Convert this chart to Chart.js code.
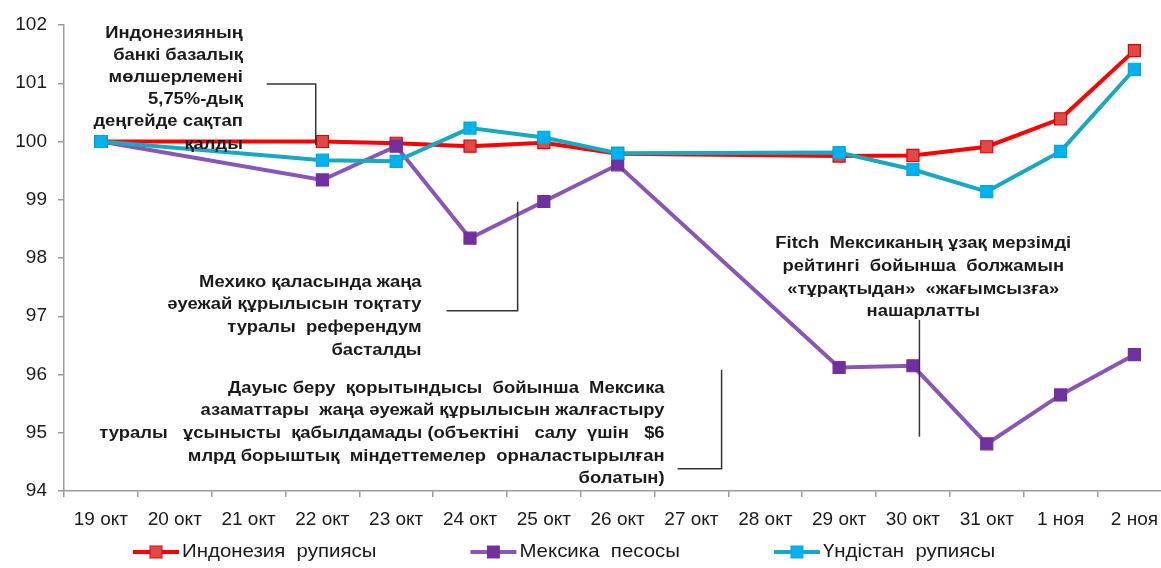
<!DOCTYPE html>
<html>
<head>
<meta charset="utf-8">
<script src="https://cdn.jsdelivr.net/npm/chart.js@4.4.0/dist/chart.umd.min.js"></script>
<style>
html, body { margin:0; padding:0; background:#fff; overflow:hidden; width:1161px; height:568px; }
#wrap { position:absolute; left:0; top:0; width:1181px; height:568px; }
</style>
</head>
<body>
<div id="wrap"><canvas id="c" width="1181" height="568"></canvas></div>
<script>
// ---- data ----
const categories = ['19 окт','20 окт','21 окт','22 окт','23 окт','24 окт','25 окт','26 окт','27 окт','28 окт','29 окт','30 окт','31 окт','1 ноя','2 ноя'];
const seriesNames = ['Индонезия  рупиясы', 'Мексика  песосы', 'Үндістан  рупиясы'];
const indonesia = [100, null, null, 100.00, 99.97, 99.92, 99.98, 99.79, null, null, 99.75, 99.76, 99.91, 100.39, 101.56];
const mexico    = [100, null, null, 99.34, 99.92, 98.34, 98.97, 99.60, null, null, 96.12, 96.15, 94.81, 95.65, 96.34];
const india     = [100, null, null, 99.68, 99.66, 100.23, 100.07, 99.80, null, null, 99.81, 99.52, 99.14, 99.83, 101.24];
const yTicks = [94, 95, 96, 97, 98, 99, 100, 101, 102];

const annotations = [
  { lines: ['Индонезияның','банкі базалық','мөлшерлемені','5,75%-дық','деңгейде сақтап','қалды'],
    align: 'right', x: 1.924, y: 101.86, lh: 22.2,
    path: [[2.246, 100.988], [2.91, 100.988], [2.91, 99.94]] },
  { lines: ['Мехико қаласында жаңа','әуежай құрылысын тоқтату','туралы  референдум','басталды'],
    align: 'right', x: 4.344, y: 97.58, lh: 22.6,
    path: [[4.683, 97.094], [5.645, 97.094], [5.645, 98.964]] },
  { lines: ['Fitch  Мексиканың ұзақ мерзімді','рейтингі  бойынша  болжамын','«тұрақтыдан»  «жағымсызға»','нашарлатты'],
    align: 'center', x: 11.14, y: 98.24, lh: 22.6,
    path: [[11.088, 96.94], [11.088, 94.933]] },
  { lines: ['Дауыс беру  қорытындысы  бойынша  Мексика','азаматтары  жаңа әуежай құрылысын жалғастыру','туралы   ұсынысты  қабылдамады (объектіні   салу  үшін   $6','млрд борыштық  міндеттемелер  орналастырылған','болатын)'],
    align: 'right', x: 7.636, y: 95.76, lh: 22.6,
    path: [[7.812, 94.38], [8.408, 94.38], [8.408, 96.082]] }
];

const colors = {
  indo: { line: '#FF0000', fill: '#E24848', border: '#E00000' },
  mex:  { line: '#8A56B6', fill: '#7030A0', border: '#7030A0' },
  ind:  { line: '#18A8C0', fill: '#00B2EE', border: '#00A8E0' }
};

const annotationPlugin = {
  id: 'ann',
  afterDatasetsDraw(chart) {
    const ctx = chart.ctx, xs = chart.scales.x, ys = chart.scales.y;
    ctx.save();
    annotations.forEach(a => {
      ctx.beginPath();
      ctx.strokeStyle = '#333';
      ctx.lineWidth = 1.5;
      a.path.forEach((p, i) => {
        const px = xs.getPixelForValue(p[0]), py = ys.getPixelForValue(p[1]);
        if (i === 0) ctx.moveTo(px, py); else ctx.lineTo(px, py);
      });
      ctx.stroke();
      ctx.fillStyle = '#1a1a1a';
      ctx.font = 'bold 16px "Liberation Sans", Arial, sans-serif';
      ctx.textAlign = a.align;
      ctx.textBaseline = 'middle';
      const x0 = xs.getPixelForValue(a.x), y0 = ys.getPixelForValue(a.y);
      a.lines.forEach((t, i) => {
        ctx.save();
        ctx.translate(x0, y0 + i * a.lh);
        ctx.scale(1.15, 1);
        ctx.fillText(t, 0, 0);
        ctx.restore();
      });
    });
    ctx.restore();
  }
};

const legendPlugin = {
  id: 'customLegend',
  afterDraw(chart) {
    const ctx = chart.ctx;
    const items = [colors.indo, colors.mex, colors.ind];
    const y = 552, sx = 1.075;
    let x = 133;
    ctx.save();
    ctx.font = '19px "Liberation Sans", Arial, sans-serif';
    ctx.textBaseline = 'middle';
    ctx.textAlign = 'left';
    items.forEach((c, i) => {
      ctx.strokeStyle = c.line;
      ctx.lineWidth = 4;
      ctx.beginPath(); ctx.moveTo(x, y); ctx.lineTo(x + 46, y); ctx.stroke();
      ctx.fillStyle = c.fill;
      ctx.fillRect(x + 17, y - 6, 12, 12);
      ctx.strokeStyle = c.border; ctx.lineWidth = 1;
      ctx.strokeRect(x + 17, y - 6, 12, 12);
      ctx.fillStyle = '#1a1a1a';
      const tx = x + 49;
      ctx.save();
      ctx.translate(tx, y);
      ctx.scale(sx, 1);
      ctx.fillText(seriesNames[i], 0, 0);
      ctx.restore();
      x = tx + ctx.measureText(seriesNames[i]).width * sx + 94;
    });
    ctx.restore();
  }
};

function ds(label, data, c, order) {
  return {
    label, data, order,
    borderColor: c.line, borderWidth: 4,
    backgroundColor: c.fill,
    pointStyle: 'rect', pointRadius: 8.5, pointHoverRadius: 8.5,
    pointBackgroundColor: c.fill, pointBorderColor: c.border, pointBorderWidth: 1.2,
    spanGaps: true, tension: 0, fill: false
  };
}

new Chart(document.getElementById('c'), {
  type: 'line',
  data: {
    labels: categories,
    datasets: [
      ds(seriesNames[0], indonesia, colors.indo, 2),
      ds(seriesNames[1], mexico, colors.mex, 1),
      ds(seriesNames[2], india, colors.ind, 0)
    ]
  },
  options: {
    responsive: false,
    animation: false,
    layout: { padding: { left: 12, right: 0, top: 25, bottom: 40 } },
    plugins: { legend: { display: false }, tooltip: { enabled: false } },
    scales: {
      x: {
        type: 'category', offset: true,
        grid: { offset: true, drawOnChartArea: false, drawTicks: true, tickLength: 6, color: '#9a9a9a', lineWidth: 1.5 },
        border: { color: '#9a9a9a', width: 1.5 },
        ticks: { color: '#1a1a1a', font: { family: '"Liberation Sans", Arial, sans-serif', size: 19 }, padding: 11, maxRotation: 0, autoSkip: false },
        afterFit(s) { s.height = 37; }
      },
      y: {
        min: 94, max: 102,
        afterBuildTicks(s) { s.ticks = yTicks.map(v => ({ value: v })); },
        grid: { drawOnChartArea: false, drawTicks: true, tickLength: 6, color: '#9a9a9a', lineWidth: 1.5 },
        border: { color: '#9a9a9a', width: 1.5 },
        ticks: { color: '#1a1a1a', font: { family: '"Liberation Sans", Arial, sans-serif', size: 19 }, padding: 11 },
        afterFit(s) { s.width = 52; }
      }
    }
  },
  plugins: [annotationPlugin, legendPlugin]
});
</script>
</body>
</html>
